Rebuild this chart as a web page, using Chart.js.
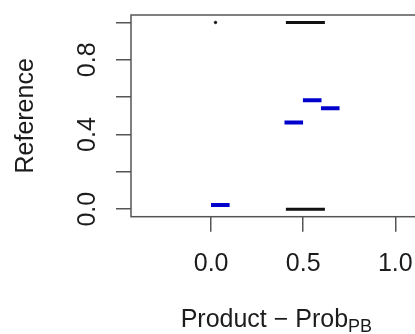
<!DOCTYPE html>
<html>
<head>
<meta charset="utf-8">
<script src="https://cdn.jsdelivr.net/npm/chart.js@4/dist/chart.umd.min.js"></script>
<style>
  html, body { margin: 0; padding: 0; background: #fff; overflow: hidden; width: 415px; height: 334px; }
  #wrap { width: 430px; height: 334px; position: absolute; left: 0; top: 0; }
  canvas { display: block; }
</style>
</head>
<body>
<div id="wrap"><canvas id="c" width="430" height="334" style="width:430px;height:334px"></canvas></div>
<script>
// ---- data ----
const xTicks = [0, 0.5, 1.0];
const xTickLabels = ['0.0', '0.5', '1.0'];
const yTicks = [0, 0.2, 0.4, 0.6, 0.8, 1.0];
const yTickLabels = ['0.0', '', '0.4', '', '0.8', ''];

const blackSegX = [0.512, 0.512];
const blackSegY = [1.0, 0.0];
const blackDotX = [0.024];
const blackDotY = [1.0];
const blueSegX = [0.050, 0.449, 0.549, 0.647];
const blueSegY = [0.022, 0.464, 0.584, 0.541];

const xTitle = 'Product \u2212 Prob';
const xTitleSub = 'PB';
const yTitle = 'Reference';

const FONT = '"Liberation Sans", Arial, Helvetica, sans-serif';
const TXT = '#1c1c1c';
const AX = '#555555';

function pts(xs, ys) { return xs.map((x, i) => ({ x: x, y: ys[i] })); }

const decor = {
  id: 'decor',
  afterDraw(chart) {
    const ctx = chart.ctx;
    const a = chart.chartArea;
    const ys = chart.scales.y;
    ctx.save();
    // box
    ctx.strokeStyle = AX;
    ctx.lineWidth = 1.5;
    ctx.strokeRect(a.left, a.top, a.right - a.left, a.bottom - a.top);
    // rotated y tick labels
    ctx.fillStyle = TXT;
    ctx.font = '25px ' + FONT;
    ctx.textAlign = 'center';
    ctx.textBaseline = 'alphabetic';
    yTicks.forEach((v, i) => {
      const lab = yTickLabels[i];
      if (!lab) return;
      const py = ys.getPixelForValue(v);
      ctx.save();
      ctx.translate(95, py);
      ctx.rotate(-Math.PI / 2);
      ctx.fillText(lab, 0, 0);
      ctx.restore();
    });
    // y title
    const cy = (a.top + a.bottom) / 2;
    ctx.save();
    ctx.translate(33, cy);
    ctx.rotate(-Math.PI / 2);
    ctx.fillText(yTitle, 0, 0);
    ctx.restore();
    // x title with subscript
    const cx = (a.left + a.right) / 2;
    ctx.font = '25px ' + FONT;
    const w1 = ctx.measureText(xTitle).width;
    ctx.font = '18px ' + FONT;
    const w2 = ctx.measureText(xTitleSub).width;
    const x0 = cx - (w1 + w2) / 2;
    ctx.textAlign = 'left';
    ctx.font = '25px ' + FONT;
    ctx.fillText(xTitle, x0, 327);
    ctx.font = '18px ' + FONT;
    ctx.fillText(xTitleSub, x0 + w1, 332);
    ctx.restore();
  }
};

new Chart(document.getElementById('c'), {
  type: 'scatter',
  data: {
    datasets: [
      { data: pts(blackSegX, blackSegY), pointStyle: 'line', pointRadius: 19.5, pointHoverRadius: 19.5,
        borderColor: '#111111', backgroundColor: '#111111', pointBorderWidth: 3 },
      { data: pts(blackDotX, blackDotY), pointStyle: 'circle', pointRadius: 1.2, pointHoverRadius: 1.2,
        borderColor: '#111111', backgroundColor: '#111111', pointBorderWidth: 1 },
      { data: pts(blueSegX, blueSegY), pointStyle: 'line', pointRadius: 9.3, pointHoverRadius: 9.3,
        borderColor: '#0000cd', backgroundColor: '#0000cd', pointBorderWidth: 4 }
    ]
  },
  options: {
    responsive: false,
    maintainAspectRatio: false,
    animation: false,
    layout: { autoPadding: false, padding: { top: 15, right: 4, left: 0, bottom: 0 } },
    plugins: { legend: { display: false }, tooltip: { enabled: false } },
    scales: {
      x: {
        type: 'linear', position: 'bottom',
        min: -0.435, max: 1.144,
        afterBuildTicks(s) { s.ticks = xTicks.map(v => ({ value: v })); },
        afterFit(s) { s.height = 117.3; },
        ticks: {
          font: { family: FONT, size: 25 }, color: TXT, padding: 17,
          callback(v) { const i = xTicks.indexOf(v); return i >= 0 ? xTickLabels[i] : ''; }
        },
        grid: { drawOnChartArea: false, drawTicks: true, tickLength: 15, color: AX, lineWidth: 1.5 },
        border: { display: false }
      },
      y: {
        type: 'linear', position: 'left',
        min: -0.04, max: 1.04,
        afterBuildTicks(s) { s.ticks = yTicks.map(v => ({ value: v })); },
        afterFit(s) { s.width = 131; },
        ticks: { display: false },
        grid: { drawOnChartArea: false, drawTicks: true, tickLength: 15, color: AX, lineWidth: 1.5 },
        border: { display: false }
      }
    }
  },
  plugins: [decor]
});
</script>
</body>
</html>
